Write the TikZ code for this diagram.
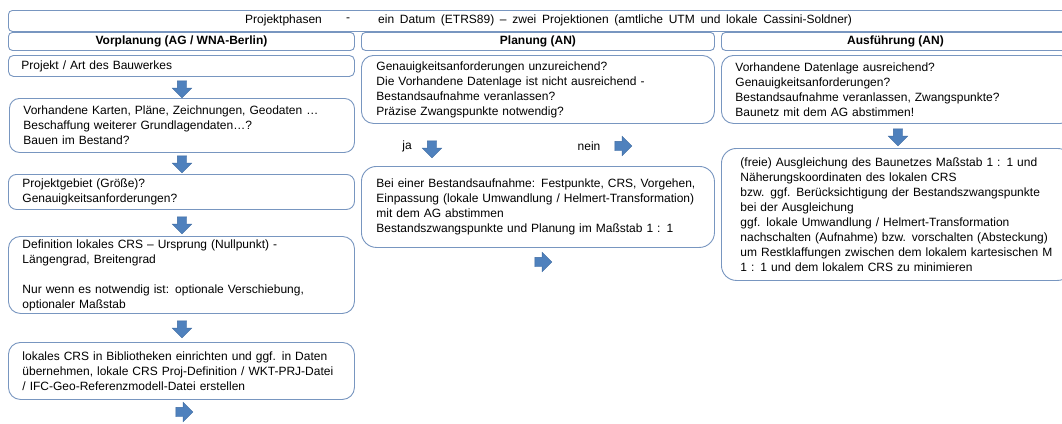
\documentclass[tikz,border=0pt]{standalone}
\usepackage{fontspec}
\setmainfont{Liberation Sans}
\usetikzlibrary{shapes.arrows}
\definecolor{boxline}{RGB}{120,150,192}
\definecolor{arrfill}{RGB}{79,129,189}
\definecolor{arrline}{RGB}{60,105,160}
\begin{document}
\begin{tikzpicture}[x=1pt,y=-1pt,
  txt/.style={font=\fontsize{12}{15}\selectfont, text=black, inner sep=0pt},
  bx/.style={draw=boxline, line width=0.9pt, anchor=north west, align=left,
    inner ysep=0pt, font=\fontsize{12}{15}\selectfont, text=black},
  hd/.style={draw=boxline, line width=0.9pt, anchor=north west, rounded corners=4pt,
    inner sep=0pt, font=\bfseries\fontsize{12}{13}\selectfont, align=center},
  blockarrow/.style={single arrow, draw=arrline, fill=arrfill, line width=0.4pt,
    minimum height=17pt, inner sep=4.5pt, single arrow head extend=5pt},
  darr/.style={blockarrow, rotate=-90},
  rarr/.style={blockarrow}
]
\path[use as bounding box, fill=white] (0,0) rectangle (1062,423);
\clip (0,0) rectangle (1062,423);

% banner
\node[draw=boxline, line width=0.9pt, anchor=north west, rounded corners=4pt,
  minimum width=1064pt, minimum height=21pt, inner sep=0pt] (banner) at (8,10) {};
\node[txt, anchor=west] (pp) at (245,20) {Projektphasen};
\node[txt, anchor=west] (dash) at (346,20) {-};
\node[txt, anchor=west] (datum) at (378,20) {\spaceskip=5.7pt plus 1pt ein Datum (ETRS89) – zwei Projektionen (amtliche UTM und lokale Cassini-Soldner)};

% headers
\node[hd, minimum width=346pt, minimum height=18pt] (h1) at (8,32) {Vorplanung (AG / WNA-Berlin)};
\node[hd, minimum width=353pt, minimum height=18pt] (h2) at (361,32) {Planung (AN)};
\node[hd, minimum width=348pt, minimum height=18pt] (h3) at (721,32) {Ausführung (AN)};

% column 1
\node[bx, rounded corners=5pt, inner xsep=13pt, text width=320pt, minimum height=21pt] (b1) at (8,55)
  {Projekt / Art des Bauwerkes};
\node[darr] (a1) at (182,87) {};
\node[bx, rounded corners=10pt, inner xsep=14pt, text width=317pt, minimum height=54pt] (b2) at (9,98)
  {Vorhandene Karten, Pläne, Zeichnungen, Geodaten …\\Beschaffung weiterer Grundlagendaten…?\\Bauen im Bestand?};
\node[darr] (a2) at (182,162) {};
\node[bx, rounded corners=8pt, inner xsep=14pt, text width=318pt, minimum height=35pt] (b3) at (8,174)
  {Projektgebiet (Größe)?\\Genauigkeitsanforderungen?};
\node[darr] (a3) at (182,223) {};
\node[bx, rounded corners=12pt, inner xsep=14pt, text width=318pt, minimum height=77pt] (b4) at (8,236)
  {Definition lokales CRS – Ursprung (Nullpunkt) -\\Längengrad, Breitengrad\\[15pt]Nur wenn es notwendig ist: optionale Verschiebung,\\optionaler Maßstab};
\node[darr] (a4) at (182,327) {};
\node[bx, rounded corners=12pt, inner xsep=14pt, text width=318pt, minimum height=57pt] (b5) at (8,342)
  {lokales CRS in Bibliotheken einrichten und ggf. in Daten\\übernehmen, lokale CRS Proj-Definition / WKT-PRJ-Datei\\/ IFC-Geo-Referenzmodell-Datei erstellen};
\node[rarr] (a5) at (182,412) {};

% column 2
\node[bx, rounded corners=12pt, inner xsep=15pt, text width=323pt, minimum height=68pt] (c1) at (361,55)
  {Genauigkeitsanforderungen unzureichend?\\Die Vorhandene Datenlage ist nicht ausreichend -\\Bestandsaufnahme veranlassen?\\Präzise Zwangspunkte notwendig?};
\node[txt] (ja) at (407,146) {ja};
\node[darr] (ja-arr) at (432,147) {};
\node[txt] (nein) at (589,146) {nein};
\node[rarr] (nein-arr) at (621,146) {};
\node[bx, rounded corners=15pt, inner xsep=15pt, text width=323pt, minimum height=81pt] (c2) at (361,166)
  {Bei einer Bestandsaufnahme: Festpunkte, CRS, Vorgehen,\\Einpassung (lokale Umwandlung / Helmert-Transformation)\\mit dem AG abstimmen\\Bestandszwangspunkte und Planung im Maßstab 1 : 1};
\node[rarr] (c-arr) at (541,262) {};

% column 3
\node[bx, rounded corners=12pt, inner xsep=14pt, text width=323pt, minimum height=68pt] (d1) at (721,55)
  {Vorhandene Datenlage ausreichend?\\Genauigkeitsanforderungen?\\Bestandsaufnahme veranlassen, Zwangspunkte?\\Baunetz mit dem AG abstimmen!};
\node[darr] (d-arr) at (898,135) {};
\node[bx, rounded corners=15pt, inner xsep=19pt, text width=313pt, minimum height=132pt] (d2) at (721,148)
  {(freie) Ausgleichung des Baunetzes Maßstab 1 : 1 und\\Näherungskoordinaten des lokalen CRS\\bzw. ggf. Berücksichtigung der Bestandszwangspunkte\\bei der Ausgleichung\\ggf. lokale Umwandlung / Helmert-Transformation\\nachschalten (Aufnahme) bzw. vorschalten (Absteckung)\\um Restklaffungen zwischen dem lokalem kartesischen M\\1 : 1 und dem lokalem CRS zu minimieren};
\end{tikzpicture}
\end{document}
